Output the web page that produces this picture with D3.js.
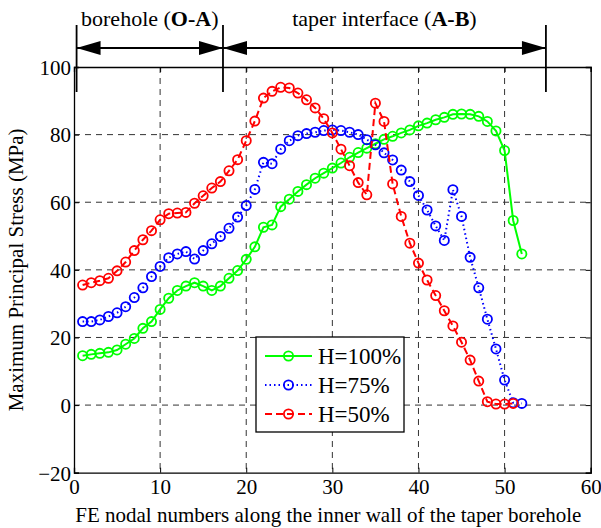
<!DOCTYPE html>
<html><head><meta charset="utf-8">
<script src="https://cdn.jsdelivr.net/npm/d3@7"></script>
<style>body{margin:0;background:#fff}svg{display:block}</style>
</head><body><svg id="c" width="601" height="528"></svg>
<script>
const nodes = d3.range(1, 53);
const h100 = [14.6,15.0,15.3,15.6,16.3,18.0,19.7,22.7,24.7,28.3,31.6,33.9,35.2,36.2,35.2,33.9,35.2,37.5,39.8,43.1,46.8,52.6,53.3,58.7,60.9,63.2,65.2,67.1,68.6,70.1,71.6,73.3,74.7,76.0,77.3,78.6,79.5,80.5,81.4,82.6,83.4,84.4,85.1,86.0,86.1,86.0,85.4,83.9,81.1,75.3,54.6,44.7];
const h75 = [24.7,24.7,25.2,26.2,27.3,29.1,31.8,34.7,38.0,41.0,43.6,44.7,45.4,43.2,45.7,47.7,49.9,52.3,55.6,59.0,63.8,71.8,71.4,75.7,78.2,79.7,80.3,80.7,81.2,81.4,81.2,80.7,80.0,78.5,77.0,74.6,72.5,69.5,66.1,62.0,57.7,53.0,48.7,63.7,55.8,43.7,34.7,25.4,16.6,7.4,0.7,0.5];
const h50 = [35.5,36.2,36.8,37.5,39.7,42.3,45.7,48.9,51.6,54.8,56.6,56.8,57.0,59.7,61.9,64.2,66.1,69.3,72.6,78.2,84.0,90.8,92.8,94.0,93.8,92.3,90.3,87.9,84.7,80.5,75.7,70.8,65.8,62.2,89.3,83.9,65.4,55.8,47.9,42.0,37.0,32.4,27.9,23.4,18.6,13.3,7.1,1.0,0.3,0.3,0.5];
const seriesNames = ["H=100%","H=75%","H=50%"];
const xTicks = [0,10,20,30,40,50,60];
const yTicks = [-20,0,20,40,60,80,100];
const regionBounds = [0.3, 17.3, 54.8];
const regionLabels = [["borehole (","O-A",")"],["taper interface (","A-B",")"]];
const xLabel = "FE nodal numbers along the inner wall of the taper borehole";
const yLabel = "Maximum Principal Stress (MPa)";

const FONT = "Liberation Serif";
const L=74, R=590.7, T=67, B=472.7;
const x = d3.scaleLinear().domain([0,60]).range([L,R]);
const y = d3.scaleLinear().domain([-20,100]).range([B,T]);
const svg = d3.select("#c").attr("font-family",FONT);

// grid
const g = svg.append("g");
g.selectAll(".vg").data(xTicks.slice(1,-1)).join("line")
  .attr("x1",d=>x(d)).attr("x2",d=>x(d)).attr("y1",T).attr("y2",B)
  .attr("stroke","#333").attr("stroke-width",1).attr("stroke-dasharray","6,5");
g.selectAll(".hg").data(yTicks.slice(1,-1)).join("line")
  .attr("y1",d=>y(d)).attr("y2",d=>y(d)).attr("x1",L).attr("x2",R)
  .attr("stroke","#333").attr("stroke-width",1).attr("stroke-dasharray","6,5");

// axes
const ax = svg.append("g").attr("transform",`translate(0,${B})`)
  .call(d3.axisBottom(x).tickValues(xTicks).tickSize(-5).tickPadding(6));
const ay = svg.append("g").attr("transform",`translate(${L},0)`)
  .call(d3.axisLeft(y).tickValues(yTicks).tickSize(-5).tickPadding(3));
svg.append("g").attr("transform",`translate(0,${T})`)
  .call(d3.axisTop(x).tickValues(xTicks).tickSize(-5).tickFormat(""));
svg.append("g").attr("transform",`translate(${R},0)`)
  .call(d3.axisRight(y).tickValues(yTicks).tickSize(-5).tickFormat(""));
svg.selectAll("g").filter(function(){return this.hasAttribute("font-family");}).attr("font-family",FONT);
svg.selectAll(".domain").attr("stroke","#000").attr("stroke-width",1.3);
svg.selectAll(".tick line").attr("stroke","#000");
svg.selectAll(".tick text").attr("font-size",21).attr("fill","#000");
ay.selectAll(".tick text").attr("dy","0.35em");

// series
const series = [
  {vals:h100, color:"#00ff00", dash:null},
  {vals:h75, color:"#0000ff", dash:"1.5,3"},
  {vals:h50, color:"#ff0000", dash:"7,4"}
];
const line = d3.line().x(d=>x(d[0])).y(d=>y(d[1]));
series.forEach((s,i)=>{
  const pts = s.vals.map((v,k)=>[nodes[k], v]);
  const gs = svg.append("g");
  gs.append("path").attr("d",line(pts)).attr("fill","none")
    .attr("stroke",s.color).attr("stroke-width",2).attr("stroke-dasharray",s.dash);
  gs.selectAll("circle").data(pts).join("circle")
    .attr("cx",d=>x(d[0])).attr("cy",d=>y(d[1])).attr("r",4.6)
    .attr("fill","none").attr("stroke",s.color).attr("stroke-width",1.8);
});

// legend
const lg = svg.append("g");
lg.append("rect").attr("x",256).attr("y",337).attr("width",148).attr("height",95)
  .attr("fill","#fff").attr("stroke","#000").attr("stroke-width",1.3);
series.forEach((s,i)=>{
  const yy = 356 + i*29;
  lg.append("line").attr("x1",265).attr("x2",312).attr("y1",yy).attr("y2",yy)
    .attr("stroke",s.color).attr("stroke-width",2).attr("stroke-dasharray",s.dash);
  lg.append("circle").attr("cx",288.5).attr("cy",yy).attr("r",4.6)
    .attr("fill","none").attr("stroke",s.color).attr("stroke-width",1.8);
  lg.append("text").attr("x",318).attr("y",yy).attr("dy","0.35em")
    .attr("font-size",23).text(seriesNames[i]);
});

// region annotation
const ag = svg.append("g");
const arrowY = 48;
regionBounds.forEach(b=>{
  ag.append("line").attr("x1",x(b)).attr("x2",x(b)).attr("y1",25).attr("y2",92)
    .attr("stroke","#000").attr("stroke-width",1.8);
});
function arrowHead(xt, dir){
  const len=24, hw=7;
  ag.append("path").attr("d",`M${xt},${arrowY}L${xt+dir*len},${arrowY-hw}L${xt+dir*len},${arrowY+hw}Z`).attr("fill","#000");
}
for(let i=0;i<2;i++){
  const a=x(regionBounds[i]), b=x(regionBounds[i+1]);
  ag.append("line").attr("x1",a).attr("x2",b).attr("y1",arrowY).attr("y2",arrowY)
    .attr("stroke","#000").attr("stroke-width",2);
  arrowHead(a,1); arrowHead(b,-1);
  const t = ag.append("text").attr("x",(a+b)/2).attr("y",26).attr("text-anchor","middle").attr("font-size",22);
  t.append("tspan").text(regionLabels[i][0]);
  t.append("tspan").attr("font-weight","bold").text(regionLabels[i][1]);
  t.append("tspan").text(regionLabels[i][2]);
}

// axis labels
svg.append("text").attr("x",(L+R)/2 - 4).attr("y",522).attr("text-anchor","middle")
  .attr("font-size",21).text(xLabel);
svg.append("text").attr("transform",`translate(23,${(T+B)/2}) rotate(-90)`).attr("text-anchor","middle")
  .attr("font-size",21).text(yLabel);

svg.selectAll("text").attr("font-family",FONT).attr("fill","#000");
</script></body></html>
